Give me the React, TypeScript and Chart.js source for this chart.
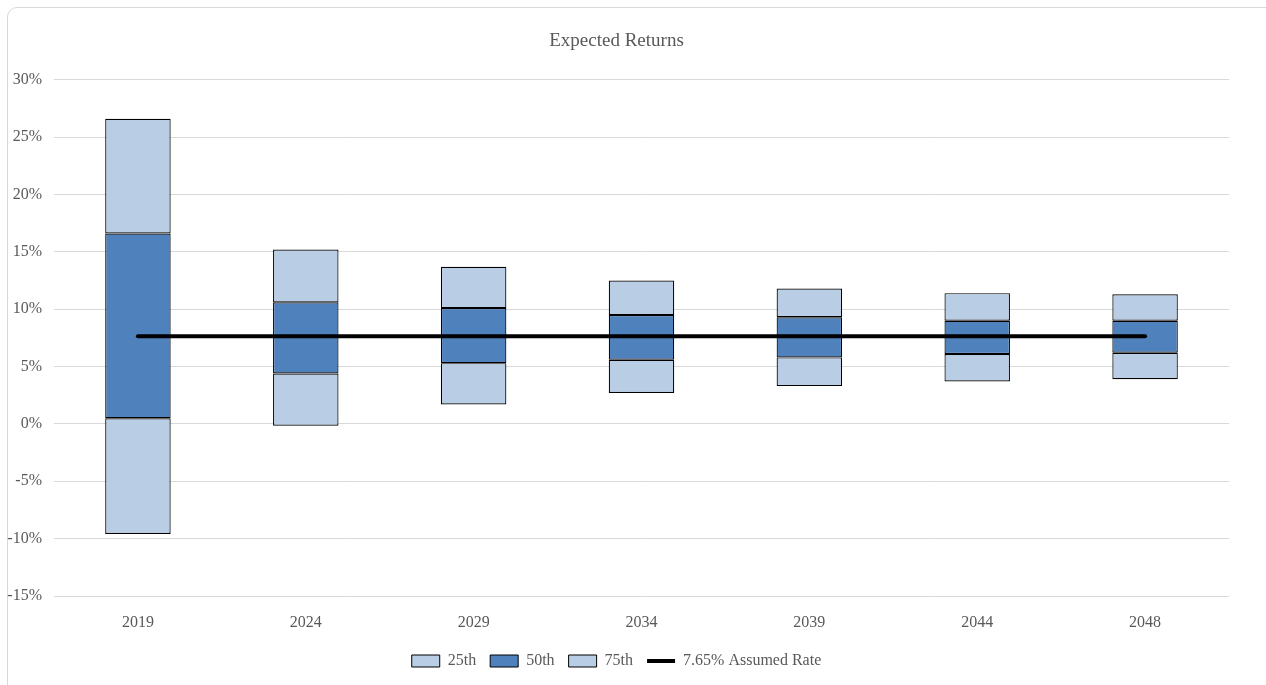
import React, { useEffect, useRef } from "react";
import { Chart, registerables } from "chart.js";

Chart.register(...registerables);

const categories = ["2019", "2024", "2029", "2034", "2039", "2044", "2048"];
const p5 = [-9.6, -0.15, 1.7, 2.7, 3.3, 3.7, 3.9];
const p25 = [0.5, 4.4, 5.3, 5.6, 5.8, 6.1, 6.2];
const p75 = [16.6, 10.6, 10.1, 9.5, 9.3, 9.0, 9.0];
const p95 = [26.6, 15.2, 13.7, 12.5, 11.8, 11.4, 11.3];
const assumedRate = [7.65, 7.65, 7.65, 7.65, 7.65, 7.65, 7.65];
const seriesNames = ["25th", "50th", "75th", "7.65% Assumed Rate"];

const LIGHT = "#B9CDE5";
const DARK = "#4F81BD";
const TEXT = "#595959";
const FONT = "'Liberation Serif', 'Times New Roman', serif";

export default function App() {
  const ref = useRef<HTMLCanvasElement | null>(null);

  useEffect(() => {
    if (!ref.current) return;
    const barCommon = {
      borderColor: "#000000",
      borderWidth: 1.2,
      borderSkipped: false as const,
      barPercentage: 0.39,
      categoryPercentage: 1,
      order: 1,
    };
    const chart = new Chart(ref.current, {
      type: "bar",
      data: {
        labels: categories,
        datasets: [
          { ...barCommon, label: seriesNames[0], data: p5.map((v, i) => [v, p25[i]]) as any, backgroundColor: LIGHT },
          { ...barCommon, label: seriesNames[1], data: p25.map((v, i) => [v, p75[i]]) as any, backgroundColor: DARK },
          { ...barCommon, label: seriesNames[2], data: p75.map((v, i) => [v, p95[i]]) as any, backgroundColor: LIGHT },
          {
            type: "line" as const,
            label: seriesNames[3],
            data: assumedRate,
            borderColor: "#000000",
            backgroundColor: "#000000",
            borderWidth: 4,
            borderCapStyle: "round",
            pointRadius: 0,
            order: 0,
          } as any,
        ],
      },
      options: {
        responsive: false,
        animation: false,
        layout: { padding: { left: 4, right: 37, top: 0, bottom: 6 } },
        plugins: {
          title: {
            display: true,
            text: "Expected Returns",
            color: TEXT,
            font: { family: FONT, size: 19, weight: "normal" },
            padding: { top: 30, bottom: 27 },
          },
          legend: {
            position: "bottom",
            labels: {
              color: TEXT,
              font: { family: FONT, size: 16 },
              usePointStyle: true,
              pointStyleWidth: 28,
              boxHeight: 12,
              padding: 14,
              generateLabels: (c: any) => {
                return c.data.datasets.map((ds: any, i: number) => ({
                  text: ds.label,
                  fillStyle: i === 3 ? "#000000" : ds.backgroundColor,
                  strokeStyle: "#000000",
                  lineWidth: i === 3 ? 4 : 1,
                  pointStyle: i === 3 ? "line" : "rect",
                  fontColor: TEXT,
                  hidden: false,
                  datasetIndex: i,
                }));
              },
            },
          },
          tooltip: { enabled: false },
        },
        scales: {
          x: {
            stacked: true,
            grid: { display: false, drawTicks: false },
            border: { display: false },
            ticks: { color: TEXT, font: { family: FONT, size: 16 }, padding: 17 },
            afterFit: (scale: any) => {
              scale.height = 43;
            },
          },
          y: {
            stacked: false,
            min: -15,
            max: 30,
            grid: { color: "#d9d9d9", lineWidth: 1, drawTicks: false },
            border: { display: false },
            ticks: {
              stepSize: 5,
              color: TEXT,
              font: { family: FONT, size: 16 },
              padding: 12,
              callback: (v: any) => `${v}%`,
            },
            afterFit: (scale: any) => {
              scale.width = 50;
            },
          },
        },
      },
    });
    return () => chart.destroy();
  }, []);

  return (
    <div
      style={{
        position: "fixed",
        left: 0,
        top: 0,
        width: 1266,
        height: 685,
        overflow: "hidden",
        background: "#ffffff",
      }}
    >
      <div
        style={{
          position: "absolute",
          left: 7,
          top: 7,
          width: 1280,
          height: 700,
          border: "1px solid #d9d9d9",
          borderRadius: 10,
          boxSizing: "border-box",
        }}
      />
      <canvas
        ref={ref}
        width={1266}
        height={685}
        style={{ position: "absolute", left: 0, top: 0, width: 1266, height: 685 }}
      />
    </div>
  );
}
